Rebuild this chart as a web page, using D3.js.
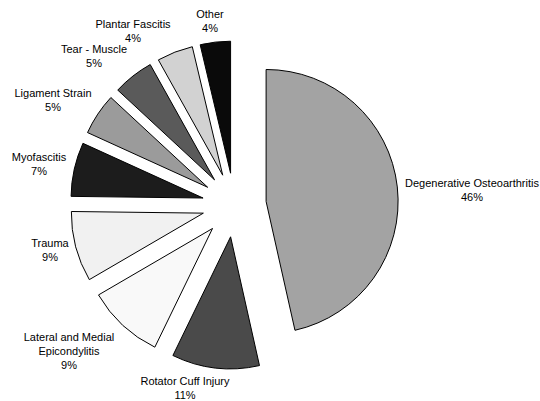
<!DOCTYPE html>
<html>
<head>
<meta charset="utf-8">
<script src="https://cdn.jsdelivr.net/npm/d3@7/dist/d3.min.js"></script>
<style>
  html, body { margin: 0; padding: 0; background: #ffffff; }
  svg { display: block; }
  text { font-family: "Liberation Sans", Arial, sans-serif; font-size: 11px; fill: #000; }
</style>
</head>
<body>
<svg id="chart" width="540" height="401"></svg>
<script>
// ---- data ----
const categories = [
  "Degenerative Osteoarthritis",
  "Rotator Cuff Injury",
  "Lateral and Medial Epicondylitis",
  "Trauma",
  "Myofascitis",
  "Ligament Strain",
  "Tear - Muscle",
  "Plantar Fascitis",
  "Other"
];
const values = [46.49, 10.71, 9.4, 8.6, 6.6, 5.1, 5.0, 4.4, 3.7];
const fills = ["#a3a3a3", "#4a4a4a", "#f9f9f9", "#f1f1f1", "#1c1c1c", "#9b9b9b", "#5a5a5a", "#d2d2d2", "#0a0a0a"];

// ---- layout ----
const W = 540, H = 401;
const center = [234.3, 205];
const radius = 132;
const explode = 32;
// label block centres (layout only)
const labelCenters = [
  [472, 190], [185, 388], [69, 351], [50, 250], [39, 163.5],
  [53, 99.5], [94, 55.5], [133, 30.5], [210, 20.5]
];
const lineH = 14;
const wrapBreaks = { "Lateral and Medial Epicondylitis": ["Lateral and Medial", "Epicondylitis"] };

const svg = d3.select("#chart");
const total = d3.sum(values);
const pct = d3.format(".0%");

const pie = d3.pie().sort(null).startAngle(0).endAngle(2 * Math.PI).value(d => d);
const arcs = pie(values);
const arcGen = d3.arc().innerRadius(0).outerRadius(radius);

const g = svg.append("g").attr("transform", `translate(${center[0]},${center[1]})`);

g.selectAll("path.slice")
  .data(arcs)
  .join("path")
  .attr("class", "slice")
  .attr("d", arcGen)
  .attr("transform", d => {
    const mid = (d.startAngle + d.endAngle) / 2;
    return `translate(${explode * Math.sin(mid)},${-explode * Math.cos(mid)})`;
  })
  .attr("fill", (d, i) => fills[i])
  .attr("stroke", "#000")
  .attr("stroke-width", 1)
  .attr("stroke-linejoin", "miter");

// labels
const labels = svg.append("g");
arcs.forEach((d, i) => {
  const name = categories[i];
  const lines = (wrapBreaks[name] || [name]).concat([pct(values[i] / total)]);
  const [cx, cy] = labelCenters[i];
  const top = cy - (lines.length - 1) * lineH / 2;
  const t = labels.append("text")
    .attr("text-anchor", "middle");
  lines.forEach((ln, j) => {
    t.append("tspan")
      .attr("x", cx)
      .attr("y", top + j * lineH + 4)
      .text(ln);
  });
});
</script>
</body>
</html>
